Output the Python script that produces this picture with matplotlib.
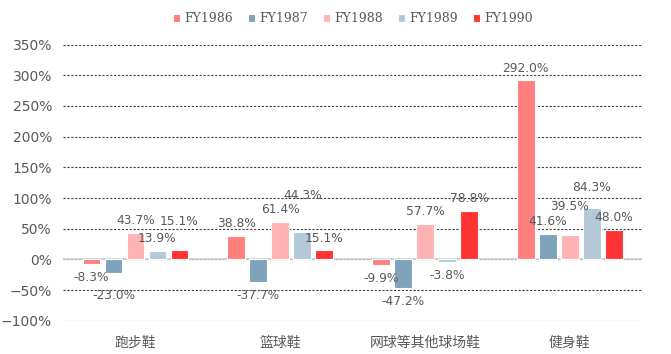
import numpy as np
import matplotlib.pyplot as plt
from matplotlib.ticker import PercentFormatter

categories = ["跑步鞋", "篮球鞋", "网球等其他球场鞋", "健身鞋"]
series_names = ["FY1986", "FY1987", "FY1988", "FY1989", "FY1990"]
fy1986 = [-8.3, 38.8, -9.9, 292.0]
fy1987 = [-23.0, -37.7, -47.2, 41.6]
fy1988 = [43.7, 61.4, 57.7, 39.5]
fy1989 = [13.9, 44.3, -3.8, 84.3]
fy1990 = [15.1, 15.1, 78.8, 48.0]
colors = ["#FF7F7F", "#7FA3BC", "#FFB3B3", "#B4C9D8", "#FF3333"]

plt.rcParams["font.family"] = ["DejaVu Sans", "Noto Sans CJK SC"]


def main():
    fig = plt.figure(figsize=(6.71, 3.54), dpi=100)
    ax = fig.add_axes([0.094, 0.094, 0.863, 0.780])

    data = [fy1986, fy1987, fy1988, fy1989, fy1990]
    x = np.arange(len(categories))
    step = 0.152
    width = 0.122
    labels = []
    for i, (name, vals, c) in enumerate(zip(series_names, data, colors)):
        pos = x + (i - 2) * step
        ax.bar(pos, vals, width, color=c, edgecolor="white", linewidth=0.8,
               label=name, zorder=3)
        for px, v in zip(pos, vals):
            off = 4 if v >= 0 else -5
            t = ax.annotate(f"{v:.1f}%", (px, v), xytext=(0, off),
                            textcoords="offset points", ha="center",
                            va="bottom" if v >= 0 else "top",
                            fontsize=8.8, color="#595959", zorder=4)
            labels.append((t, v, off))

    ax.set_ylim(-100, 350)
    ax.set_yticks(np.arange(-100, 351, 50))
    ax.yaxis.set_major_formatter(PercentFormatter(decimals=0))
    ax.set_xlim(-0.5, len(categories) - 0.5)
    ax.set_xticks(x)
    ax.set_xticklabels(categories, family=["Noto Sans CJK SC", "DejaVu Sans"],
                       fontsize=10.5)
    ax.tick_params(axis="both", length=0, labelsize=10, colors="#595959")
    ax.tick_params(axis="x", pad=11)
    ax.tick_params(axis="y", pad=8)
    for s in ax.spines.values():
        s.set_visible(False)
    ax.yaxis.grid(True, linestyle=(0, (2, 1.5)), color="#404040", linewidth=0.8,
                  zorder=0)
    ax.axhline(0, color="#D0D0D0", linewidth=1.2, zorder=2)

    leg = ax.legend(loc="lower center", bbox_to_anchor=(0.5, 1.03), ncol=5,
                    frameon=False, handlelength=0.6, handleheight=0.6,
                    handletextpad=0.3, columnspacing=1.2,
                    prop={"family": "DejaVu Serif", "size": 9})
    for t in leg.get_texts():
        t.set_color("#595959")

    # nudge data labels that collide, moving them away from zero
    fig.canvas.draw()
    renderer = fig.canvas.get_renderer()
    placed = []
    for t, v, off in labels:
        for _ in range(6):
            bb = t.get_window_extent(renderer)
            hit = [p for p in placed if bb.overlaps(p)]
            if not hit:
                break
            off += 6 if v >= 0 else -6
            t.set_position((0, off))
        placed.append(t.get_window_extent(renderer))

    fig.savefig("out.png", dpi=100)


if __name__ == "__main__":
    main()
